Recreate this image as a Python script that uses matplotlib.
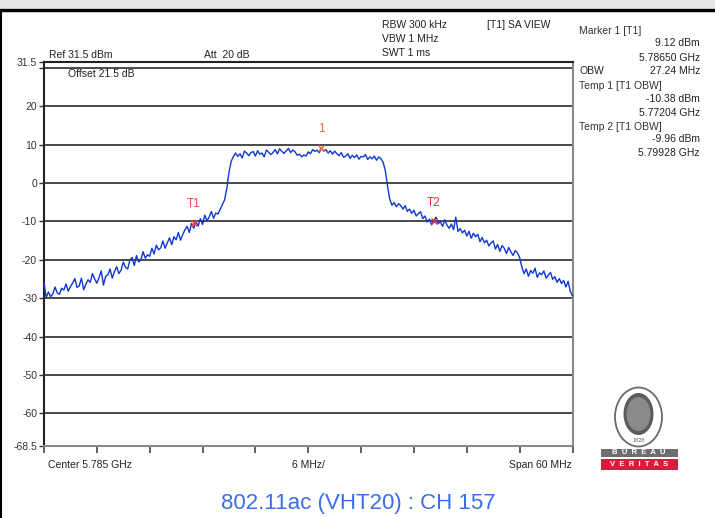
import numpy as np
import matplotlib
matplotlib.use("Agg")
from matplotlib import pyplot as plt
from matplotlib.patches import Ellipse, Rectangle

plt.rcParams['font.family'] = ['Liberation Sans', 'DejaVu Sans']

# sweep settings
f_start = 5.755   # GHz
f_stop = 5.815
ref_level = 31.5
bottom_level = -68.5
ytick_vals = [31.5, 20, 10, 0, -10, -20, -30, -40, -50, -60, -68.5]

# trace, dBm, 0.25 MHz per point across the 60 MHz span
trace = [
    # lower skirt
    -26.0, -29.8, -28.4, -29.6, -28.9, -27.1, -28.6, -29.0, -27.4, -27.9,
    -26.3, -28.2, -27.0, -26.1, -24.9, -27.2, -26.8,
    -24.8, -27.8, -26.4, -25.2, -25.9, -23.6, -25.0, -26.1, -24.6, -22.9,
    -26.6, -24.3, -23.9, -22.4, -24.8, -23.1,
    -21.8, -23.6, -22.7, -20.6, -21.9, -22.4, -20.1, -19.4, -21.5, -18.9,
    -20.6, -20.0, -17.9, -19.6, -18.7, -19.1,
    -17.0, -18.5, -16.2, -17.4, -16.9, -15.1, -17.0, -15.6, -14.3, -16.1,
    -14.0, -14.8, -12.9, -14.9, -13.4, -12.2,
    -11.3, -12.9, -10.5, -11.8, -10.1, -11.2, -9.3, -10.8, -8.4, -9.8,
    -8.9, -7.4, -9.2, -7.8, -8.1, -6.9,
    # rising edge
    -5.6, -4.4, -1.5, 2.8, 5.6, 6.9,
    # channel
    7.8, 6.9, 7.6, 6.5, 8.3, 7.8, 7.1, 7.9, 8.2, 7.0,
    8.4, 7.5, 7.8, 6.8, 8.6, 8.0, 7.4, 7.9, 8.7, 7.6,
    8.9, 8.2, 7.7, 8.4, 9.0, 7.9, 8.6, 8.1, 7.2, 7.5,
    6.8, 7.3, 7.0, 8.1, 7.6, 8.7, 8.2, 8.5, 7.9, 9.1,
    8.3, 8.7, 7.8, 8.4, 7.5, 8.3, 7.6, 7.1, 7.9, 6.7,
    7.0, 7.6, 6.4, 7.2, 6.6, 7.3, 6.2, 6.9, 6.8, 7.4,
    6.1, 6.8, 6.3, 7.0, 5.9, 6.8, 6.3, 5.4,
    # falling edge and upper skirt
    3.2, -0.8, -4.2, -5.8, -5.1, -6.2, -5.4, -5.9, -6.8, -5.9,
    -7.4, -6.8, -7.9, -7.1, -8.6, -8.0, -7.5, -9.3, -8.6, -10.2,
    -9.4, -10.9,
    -9.8, -8.9, -10.6, -10.1, -11.3, -9.6, -11.0, -11.8, -10.7, -12.2,
    -8.9, -12.6, -11.9, -13.0, -12.3, -13.8, -12.6, -14.4, -13.1, -14.0,
    -13.4, -15.3, -14.2, -15.6,
    -14.9, -16.4, -15.6, -15.1, -17.2, -16.0, -17.8, -16.3, -17.0, -18.4,
    -16.8, -17.9, -18.9, -17.6, -18.2, -19.4,
    -21.9, -23.6, -22.4, -24.3, -22.8, -23.5, -22.2, -24.6, -23.4, -23.9,
    -22.9, -24.8, -24.0, -23.3, -25.1, -24.4, -25.9, -24.9, -26.2, -25.4,
    -27.1, -25.6, -28.2, -29.4,
]

# markers: name, frequency (GHz), level (dBm), colour
marker_names = ['1', 'T1', 'T2']
marker_freqs = [5.78650, 5.77204, 5.79928]
marker_levels = [9.12, -10.38, -9.96]
marker_colors = ['#ee6a3a', '#f04a4a', '#e83030']

freqs = np.linspace(f_start, f_stop, len(trace))

fig = plt.figure(figsize=(7.15, 5.18), dpi=100)

# window frame
fig.patches.append(Rectangle((0, 1 - 8 / 518), 1, 8 / 518, transform=fig.transFigure,
                             facecolor='#e6e6e6', edgecolor='none'))
fig.lines.append(plt.Line2D([0, 1], [1 - 10 / 518] * 2, transform=fig.transFigure,
                            color='black', lw=2.5))
fig.lines.append(plt.Line2D([1 / 715] * 2, [0, 1 - 10 / 518], transform=fig.transFigure,
                            color='black', lw=1.5))

ax = fig.add_axes([44 / 715, 1 - 446 / 518, 528.5 / 715, 384 / 518])
ax.set_xlim(f_start, f_stop)
ax.set_ylim(bottom_level, ref_level)

for lvl in [30, 20, 10, 0, -10, -20, -30, -40, -50, -60]:
    ax.axhline(lvl, color='#3c3c3c', lw=1.3, zorder=1)

ax.plot(freqs, trace, color='#1038d0', lw=1.0, zorder=3)

for name, fq, lv, c in zip(marker_names, marker_freqs, marker_levels, marker_colors):
    ax.plot(fq, lv, marker='x', color=c, ms=4, mew=1.0, zorder=4)
    ax.annotate(name, (fq, lv), xytext=(0, 9), textcoords='offset points',
                ha='center', va='bottom', color=c, fontsize=8.5)

ax.set_yticks(ytick_vals)
ax.set_yticklabels(['31.5', '20', '10', '0', '-10', '-20', '-30', '-40', '-50', '-60', '-68.5'])
ax.set_yticks([30], minor=True)
ax.tick_params(axis='y', which='both', direction='out', length=3.5, width=1,
               colors='#333333', labelsize=7.5, pad=1.5)
ax.set_xticks(np.linspace(f_start, f_stop, 11))
ax.tick_params(axis='x', direction='out', length=5, width=1.2, colors='#444444',
               labelbottom=False)

for side in ['left', 'top']:
    ax.spines[side].set_color('#222222')
    ax.spines[side].set_linewidth(1.5)
for side in ['right', 'bottom']:
    ax.spines[side].set_color('#8a8a8a')
    ax.spines[side].set_linewidth(1.5)


def ftext(x, y, s, **kw):
    kw.setdefault('fontsize', 7.5)
    kw.setdefault('color', '#222222')
    kw.setdefault('va', 'center')
    fig.text(x / 715, 1 - y / 518, s, **kw)


# instrument settings
ftext(49, 55, 'Ref 31.5 dBm')
ftext(204, 55, 'Att  20 dB')
ftext(68, 74, 'Offset 21.5 dB')
ftext(382, 25, 'RBW 300 kHz')
ftext(382, 39.5, 'VBW 1 MHz')
ftext(382, 53.5, 'SWT 1 ms')
ftext(487, 25, '[T1] SA VIEW')

# marker table
ftext(579, 31, 'Marker 1 [T1]', color='#333333')
ftext(700, 43.5, '9.12 dBm', ha='right')
ftext(700, 57.5, '5.78650 GHz', ha='right')
ftext(579, 71.5, 'OBW')
ftext(700, 71.5, '27.24 MHz', ha='right')
ftext(579, 86, 'Temp 1 [T1 OBW]', color='#333333')
ftext(700, 99, '-10.38 dBm', ha='right')
ftext(700, 112.5, '5.77204 GHz', ha='right')
ftext(579, 127, 'Temp 2 [T1 OBW]', color='#333333')
ftext(700, 139.5, '-9.96 dBm', ha='right')
ftext(700, 153.5, '5.79928 GHz', ha='right')

# frequency axis legend
ftext(48, 465, 'Center 5.785 GHz')
ftext(308, 465, '6 MHz/', ha='center')
ftext(572, 465, 'Span 60 MHz', ha='right')

ftext(358, 503, '802.11ac (VHT20) : CH 157', ha='center', fontsize=16, color='#3a6ee6')

# BV seal
logo = fig.add_axes([590 / 715, 1 - 475 / 518, 100 / 715, 90 / 518])
logo.set_xlim(0, 100)
logo.set_ylim(90, 0)
logo.axis('off')
logo.add_patch(Ellipse((48.5, 32), 47, 59, facecolor='white', edgecolor='#6a6a6a', lw=1.3))
logo.add_patch(Ellipse((48.5, 29), 30, 42, facecolor='#5c5c5c', edgecolor='none'))
logo.add_patch(Ellipse((48.5, 29), 24, 34, facecolor='#8a8a8a', edgecolor='none'))
logo.text(48.5, 55, '1828', ha='center', va='center', fontsize=4, color='#666666')
logo.add_patch(Rectangle((10.5, 64), 77.5, 8, facecolor='#6e6e6e', edgecolor='none'))
logo.add_patch(Rectangle((10.5, 74), 77.5, 11, facecolor='#d2203c', edgecolor='none'))
logo.text(49, 68, 'B  U  R  E  A  U', ha='center', va='center', fontsize=5.5,
          color='white', fontweight='bold')
logo.text(49, 79.5, 'V  E  R  I  T  A  S', ha='center', va='center', fontsize=5.5,
          color='white', fontweight='bold')

fig.savefig('out.png', dpi=100)
